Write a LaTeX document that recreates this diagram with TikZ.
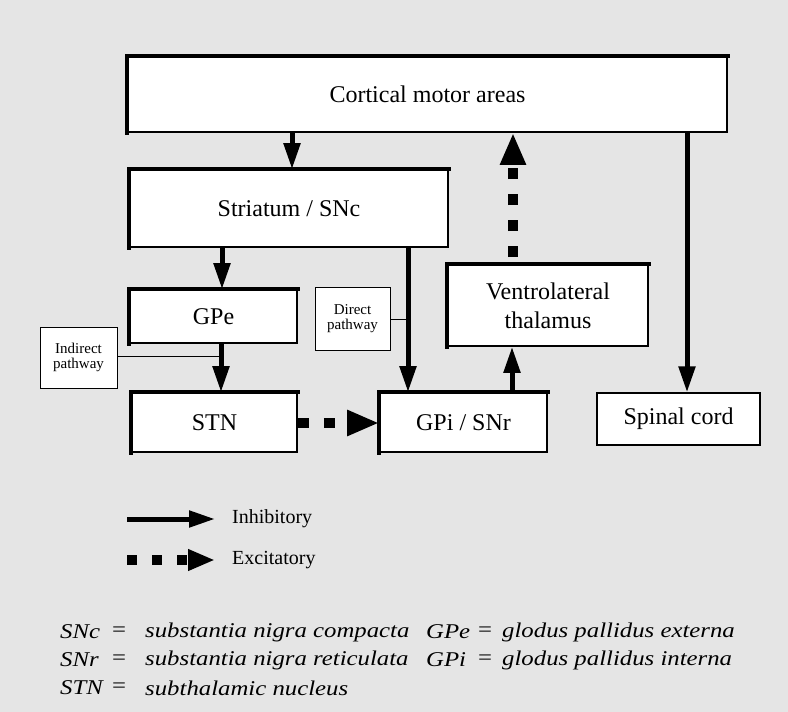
\documentclass[tikz,border=0pt]{standalone}
\usepackage{fontspec}
\setmainfont{Liberation Serif}
\newfontfamily\notefont{Liberation Serif}[FakeStretch=1.18]
\usetikzlibrary{arrows.meta}
\newcommand{\boxfont}{\fontsize{24}{29}\selectfont}
\newcommand{\tagfont}{\fontsize{15}{15.5}\selectfont}
\tikzset{
  nucleus/.style={draw, line width=1.6pt, fill=white, inner sep=0pt, align=center, font=\boxfont},
  plainbox/.style={draw, line width=1.2pt, fill=white, inner sep=0pt, align=center, font=\boxfont},
  tagbox/.style={draw, line width=0.8pt, fill=white, inner sep=0pt, align=center, font=\tagfont},
  inh/.style={line width=5pt, -{Triangle[length=26pt,width=16pt]}},
  exc/.style={line width=10pt, dash pattern=on 11pt off 15pt, -{Triangle[length=32pt,width=24pt]}},
  tagline/.style={line width=1pt},
  note/.style={anchor=west, inner sep=0pt, font=\notefont\fontsize{21}{25}\selectfont\itshape},
  eqsign/.style={inner sep=0pt, font=\notefont\fontsize{21}{25}\selectfont}
}
\begin{document}
\begin{tikzpicture}[x=1pt,y=-1pt]
  \fill[gray!20] (0,0) rectangle (788,712);
  \useasboundingbox (0,0) rectangle (788,712);

  % boxes
  \node[nucleus, minimum width=599pt, minimum height=75pt] (cortex) at (427.5,94.5) {Cortical motor areas};
  \node[nucleus, minimum width=318pt, minimum height=77pt] (striatum) at (289,208.5) {Striatum / SNc};
  \node[nucleus, minimum width=167pt, minimum height=53pt] (gpe) at (213.5,316.5) {GPe};
  \node[nucleus, minimum width=165pt, minimum height=59pt] (stn) at (214.5,422.5) {STN};
  \node[nucleus, minimum width=167pt, minimum height=59pt] (gpi) at (463.5,422.5) {GPi / SNr};
  \node[nucleus, minimum width=200pt, minimum height=81pt] (thal) at (548,305.5) {Ventrolateral\\thalamus};
  \node[plainbox, minimum width=163pt, minimum height=52pt] (spinal) at (678.5,419) {Spinal cord};
  \node[tagbox, minimum width=75pt, minimum height=63pt] (direct) at (352.5,318.5) {Direct\\pathway};
  \node[tagbox, minimum width=77pt, minimum height=61pt] (indirect) at (78.5,357.5) {Indirect\\pathway};

  % heavy top and left edges
  \foreach \n in {cortex,striatum,gpe,stn,gpi,thal}
    \draw[line width=4.5pt, line cap=rect] (\n.south west) -- (\n.north west) -- (\n.north east);

  % pathway tags
  \draw[tagline] (indirect.east |- 0,356) -- (221,356);
  \draw[tagline] (direct.east |- 0,319) -- (408,319);

  % connections
  \draw[inh] (cortex.south -| 292,0) -- (striatum.north -| 292,0);
  \draw[inh] (striatum.south -| 222,0) -- (gpe.north -| 222,0);
  \draw[inh] (gpe.south -| 221,0) -- (stn.north -| 221,0);
  \draw[inh] (striatum.south -| 408,0) -- (gpi.north -| 408,0);
  \draw[inh] (gpi.north -| 512,0) -- (thal.south -| 512,0);
  \draw[inh] (cortex.south -| 687,0) -- (spinal.north -| 687,0);
  \draw[exc, dash phase=19pt] (thal.north -| 513,0) -- (cortex.south -| 513,0);
  \draw[exc] (stn.east |- 0,423) -- (gpi.west |- 0,423);

  % legend
  \coordinate (inhA) at (127,519);
  \coordinate (inhB) at (215,519);
  \coordinate (excA) at (127,560);
  \coordinate (excB) at (215,560);
  \draw[inh] (inhA) -- (inhB);
  \draw[exc, dash pattern=on 10pt off 15pt, -{Triangle[length=27pt,width=20pt]}] (excA) -- (excB);
  \node[anchor=west, inner sep=0pt, font=\fontsize{20}{24}\selectfont] (inhtxt) at (232,519) {Inhibitory};
  \node[anchor=west, inner sep=0pt, font=\fontsize{20}{24}\selectfont] (exctxt) at (232,560) {Excitatory};

  % abbreviations
  \foreach \ab/\txt/\yy in {SNc/substantia nigra compacta/632,SNr/substantia nigra reticulata/660,STN/subthalamic nucleus/688} {
    \node[note] at (60,\yy) {\ab};
    \node[eqsign] at (119,\yy) {=};
    \node[note] at (145,\yy) {\txt};
  }
  \foreach \ab/\txt/\yy in {GPe/glodus pallidus externa/632,GPi/glodus pallidus interna/660} {
    \node[note] at (426,\yy) {\ab};
    \node[eqsign] at (485,\yy) {=};
    \node[note] at (502,\yy) {\txt};
  }
\end{tikzpicture}
\end{document}
